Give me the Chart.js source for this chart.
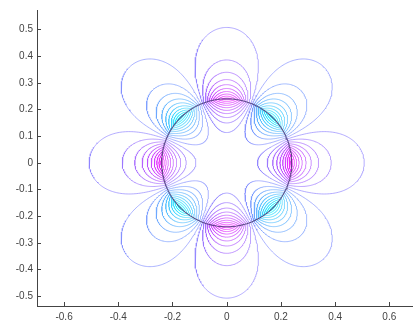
<!DOCTYPE html>
<html>
<head>
<meta charset="utf-8">
<script src="https://cdn.jsdelivr.net/npm/chart.js@4.4.1/dist/chart.umd.min.js"></script>
<style>
  html, body { margin: 0; padding: 0; background: #fff; overflow: hidden; }
  #plot { display: block; }
</style>
</head>
<body>
<canvas id="plot" width="413" height="327"></canvas>
<script>
// field: ring of radius ringRadius, 8 lobes alternating sign (cos 4θ),
// decaying as (R/r)^4 outside and (r/R)^4 inside
const ringRadius = 0.24;
const lobeAngles = [0, 45, 90, 135, 180, 225, 270, 315];
const lobeSigns = [1, -1, 1, -1, 1, -1, 1, -1];
const levels = [0.05, 0.15, 0.25, 0.35, 0.45, 0.55, 0.65, 0.75, 0.85, 0.95];
const xTicks = [-0.6, -0.4, -0.2, 0, 0.2, 0.4, 0.6];
const yTicks = [-0.5, -0.4, -0.3, -0.2, -0.1, 0, 0.1, 0.2, 0.3, 0.4, 0.5];

// MATLAB "cool" colormap, value in [-1, 1]
function coolColor(v) {
  const t = (v + 1) / 2;
  return `rgba(${Math.round(255 * t)},${Math.round(255 * (1 - t))},255,0.62)`;
}

// closed iso-line of one lobe: outer arc then inner arc, meeting on the ring
function lobeLoop(phiDeg, c) {
  const phi = phiDeg * Math.PI / 180;
  const dc = Math.acos(c) / 4;
  const n = 140;
  const pts = [];
  const push = (d, r) => pts.push({ x: r * Math.cos(phi + d), y: r * Math.sin(phi + d) });
  for (let i = 0; i <= n; i++) {
    const d = dc * Math.sin((-1 + 2 * i / n) * Math.PI / 2);
    const k = Math.max(c, Math.cos(4 * d));
    push(d, ringRadius * Math.pow(k / c, 0.25));
  }
  for (let i = n; i >= 0; i--) {
    const d = dc * Math.sin((-1 + 2 * i / n) * Math.PI / 2);
    const k = Math.max(c, Math.cos(4 * d));
    push(d, ringRadius * Math.pow(c / k, 0.25));
  }
  return pts;
}

function ringPoints() {
  const pts = [];
  for (let a = 0; a <= 360; a += 2) {
    const t = a * Math.PI / 180;
    pts.push({ x: ringRadius * Math.cos(t), y: ringRadius * Math.sin(t) });
  }
  return pts;
}

const datasets = [{
  data: ringPoints(), borderColor: "rgba(70,55,120,0.85)", borderWidth: 1.1, order: 0
}];
lobeAngles.forEach((phi, i) => {
  levels.forEach(c => {
    datasets.push({
      data: lobeLoop(phi, c),
      borderColor: coolColor(lobeSigns[i] * c),
      borderWidth: 1,
      order: 1
    });
  });
});

// MATLAB-style ticks pointing into the axes
const innerTicks = {
  id: "innerTicks",
  afterDraw(chart) {
    const { ctx, chartArea: a, scales: { x, y } } = chart;
    ctx.save();
    ctx.strokeStyle = "#444";
    ctx.lineWidth = 1;
    ctx.beginPath();
    xTicks.forEach(v => {
      const px = Math.round(x.getPixelForValue(v)) + 0.5;
      ctx.moveTo(px, a.bottom); ctx.lineTo(px, a.bottom - 4);
    });
    yTicks.forEach(v => {
      const py = Math.round(y.getPixelForValue(v)) + 0.5;
      ctx.moveTo(a.left, py); ctx.lineTo(a.left + 4, py);
    });
    ctx.stroke();
    ctx.restore();
  }
};

const tickFont = { family: "'Liberation Sans', Arial, sans-serif", size: 10 };

new Chart(document.getElementById("plot"), {
  type: "scatter",
  data: { datasets },
  options: {
    responsive: false,
    animation: false,
    events: [],
    layout: { padding: { top: 6, right: 0, left: 0, bottom: 0 } },
    elements: { point: { radius: 0 }, line: { tension: 0 } },
    datasets: { scatter: { showLine: true, fill: false } },
    scales: {
      x: {
        type: "linear", min: -0.7, max: 0.6875,
        grid: { display: false, drawTicks: false },
        border: { display: true, color: "#444", width: 1 },
        afterBuildTicks: s => { s.ticks = xTicks.map(v => ({ value: v })); },
        afterFit: s => { s.height = 21; },
        ticks: { color: "#444", font: tickFont, padding: 5, maxRotation: 0,
                 callback: v => String(v) }
      },
      y: {
        type: "linear", min: -0.537, max: 0.573,
        grid: { display: false, drawTicks: false },
        border: { display: true, color: "#444", width: 1 },
        afterBuildTicks: s => { s.ticks = yTicks.map(v => ({ value: v })); },
        afterFit: s => { s.width = 37; },
        ticks: { color: "#444", font: tickFont, padding: 4,
                 callback: v => String(v) }
      }
    },
    plugins: { legend: { display: false }, tooltip: { enabled: false } }
  },
  plugins: [innerTicks]
});
</script>
</body>
</html>
